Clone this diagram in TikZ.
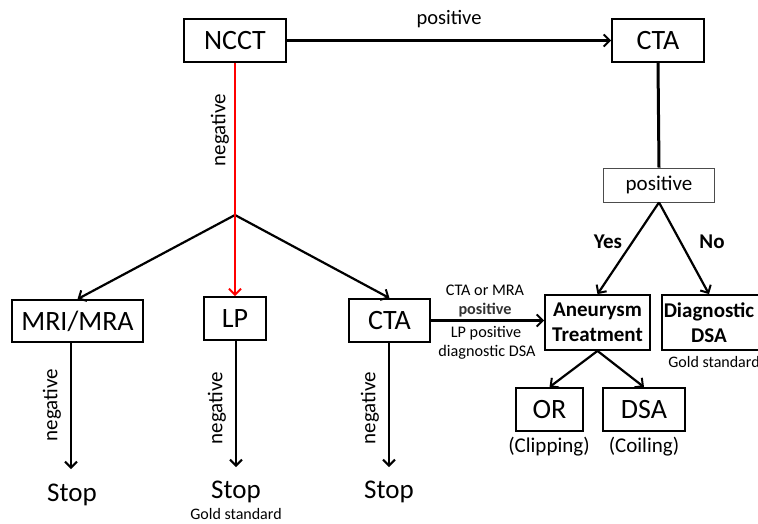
\documentclass[tikz,border=0pt]{standalone}
\usepackage{fontspec}
\setmainfont{Carlito}
\usetikzlibrary{arrows.meta}
\begin{document}
\begin{tikzpicture}[x=1pt,y=-1pt,
  box/.style={draw, line width=1.8pt, inner sep=0pt, font=\fontsize{28}{32}\selectfont},
  bbox/.style={draw, line width=1.8pt, inner sep=0pt, align=center, font=\bfseries\fontsize{21}{25}\selectfont},
  btext/.style={inner sep=0pt, align=center, font=\bfseries\fontsize{21}{25}\selectfont},
  arr/.style={line width=2.2pt, -{Straight Barb[length=6pt,width=12pt,line width=2pt]}},
  lbl/.style={inner sep=0pt, font=\fontsize{21}{25}\selectfont},
  small/.style={inner sep=0pt, font=\fontsize{16.2}{19}\selectfont},
  gold/.style={inner sep=0pt, font=\fontsize{16}{19}\selectfont},
  big/.style={inner sep=0pt, font=\fontsize{27}{31}\selectfont},
  yn/.style={inner sep=0pt, font=\bfseries\fontsize{21}{25}\selectfont}]
\useasboundingbox (0,0) rectangle (758,523);
% boxes
\node[box, minimum width=102pt, minimum height=43pt] (ncct) at (235,40.5) {NCCT};
\node[box, minimum width=92pt, minimum height=43pt] (ctatop) at (658,40.5) {CTA};
\node[draw=black!70, line width=0.8pt, inner sep=0pt, minimum width=111pt, minimum height=34pt, font=\fontsize{21}{25}\selectfont] (pos) at (659,185) {positive};
\node[bbox, minimum width=105pt, minimum height=55pt] (at) at (597.5,322.5) {Aneurysm\\Treatment};
\node[draw, line width=1.8pt, inner sep=0pt, minimum width=104pt, minimum height=55pt] (dd) at (714,322.5) {};
\node[btext] (ddt) at (709,322.5) {Diagnostic\\DSA};
\node[box, minimum width=131pt, minimum height=42pt] (mri) at (77.5,321) {MRI/MRA};
\node[box, minimum width=62pt, minimum height=43pt] (lp) at (235,318.5) {LP};
\node[box, minimum width=81pt, minimum height=43pt] (cta2) at (389.5,320.5) {CTA};
\node[box, minimum width=67pt, minimum height=43pt] (or) at (549.5,409.5) {OR};
\node[box, minimum width=82pt, minimum height=43pt] (dsa) at (644,409.5) {DSA};
% stops
\node[big] (stop1) at (72,495) {Stop};
\node[big] (stop2) at (236,492) {Stop};
\node[big] (stop3) at (389,492) {Stop};
\node[gold] (gold1) at (236,513.5) {Gold standard};
\node[gold] (gold2) at (714,362) {Gold standard};
\coordinate (br) at (235,215);
\coordinate (e1) at (71,469);
\coordinate (e2) at (236,467);
\coordinate (e3) at (389,467);
% connectors
\draw[arr] (ncct.east) -- (ctatop.west) node[lbl, midway, above=12pt, font=\fontsize{20.5}{24}\selectfont] {positive};
\draw[arr] (br) -- (mri.north);
\draw[arr] (br) -- (cta2.north);
\draw[arr, red] (ncct.south) -- (lp.north);
\node[lbl, rotate=90] (neg0) at (220,130) {negative};
\draw[arr] (mri.south -| e1) -- (e1);
\draw[arr] (lp.south -| e2) -- (e2);
\draw[arr] (cta2.south -| e3) -- (e3);
\node[lbl, rotate=90] (neg1) at (52,405) {negative};
\node[lbl, rotate=90] (neg2) at (217,408) {negative};
\node[lbl, rotate=90] (neg3) at (370,408) {negative};
\draw[line width=3pt] (ctatop.south) -- (pos.north);
\draw[arr] (pos.south) -- (at.north);
\draw[arr] (pos.south) -- (dd.north -| ddt.north);
\node[yn] (yes) at (608,242) {Yes};
\node[yn] (no) at (712,242) {No};
\draw[arr] (cta2.east) -- (cta2.east -| at.west);
\node[small] (l1) at (485,290) {CTA or MRA};
\node[small, text=black!80] (l2) at (485,310) {\bfseries positive};
\node[small] (l3) at (486,333) {LP positive};
\node[small] (l4) at (487,352) {diagnostic DSA};
\draw[arr] (at.south) -- (or.north);
\draw[arr] (at.south) -- (dsa.north);
\node[lbl] (clip) at (549,447) {(Clipping)};
\node[lbl] (coil) at (644,447) {(Coiling)};
\end{tikzpicture}
\end{document}
